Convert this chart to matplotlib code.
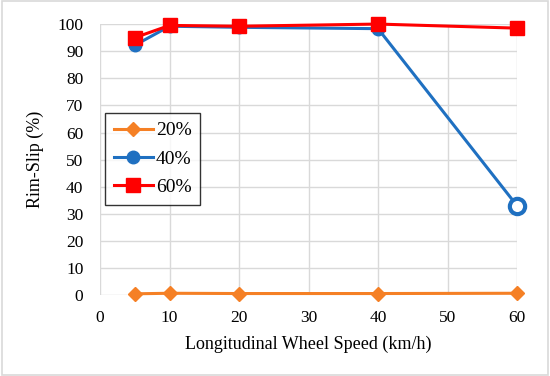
import matplotlib
matplotlib.use("Agg")
import matplotlib.pyplot as plt

plt.rcParams["font.family"] = ["Liberation Serif", "DejaVu Serif"]

speed = [5, 10, 20, 40, 60]
slip_20 = [0.5, 0.7, 0.6, 0.6, 0.7]
slip_40 = [92.2, 99.2, 98.8, 98.3, 33.0]
slip_60 = [95.0, 99.5, 99.2, 100.0, 98.5]

fig = plt.figure(figsize=(5.5, 3.76), dpi=100)
ax = fig.add_axes([0.182, 0.215, 0.758, 0.721])

ax.plot(speed, slip_20, color="#F58025", lw=2.2, marker="D", ms=7.5, label="20%", clip_on=False)
ax.plot(speed[:-1], slip_40[:-1], color="#1F70C1", lw=2.2, marker="o", ms=9, label="40%", clip_on=False)
ax.plot(speed[-2:], slip_40[-2:], color="#1F70C1", lw=2.2, clip_on=False)
ax.plot(speed[-1], slip_40[-1], marker="o", ms=11, mfc="white", mec="#1F70C1", mew=3,
        ls="none", clip_on=False)
ax.plot(speed, slip_60, color="#FF0000", lw=2.2, marker="s", ms=9.5, label="60%", clip_on=False)

ax.set_xlim(0, 60)
ax.set_ylim(0, 100)
ax.set_xticks(range(0, 61, 10))
ax.set_yticks(range(0, 101, 10))
ax.grid(True, color="#D9D9D9", lw=1)
ax.set_axisbelow(True)
for s in ax.spines.values():
    s.set_visible(False)
ax.tick_params(length=0, labelsize=12.5)
ax.tick_params(axis="x", pad=11)
ax.tick_params(axis="y", pad=12)
ax.set_xlabel("Longitudinal Wheel Speed (km/h)", fontsize=13, labelpad=7)
ax.set_ylabel("Rim-Slip (%)", fontsize=13, labelpad=10)

leg = ax.legend(loc="upper left", bbox_to_anchor=(0.012, 0.672), borderaxespad=0,
                fontsize=14, frameon=True, fancybox=False, edgecolor="black",
                handlelength=2.0, handletextpad=0.15, borderpad=0.45,
                labelspacing=0.55)
leg.get_frame().set_linewidth(1.0)

fig.patches.append(plt.Rectangle((0.003, 0.003), 0.994, 0.994, transform=fig.transFigure,
                                 fill=False, edgecolor="#D9D9D9", lw=1.2))

fig.savefig("out.png", dpi=100)
